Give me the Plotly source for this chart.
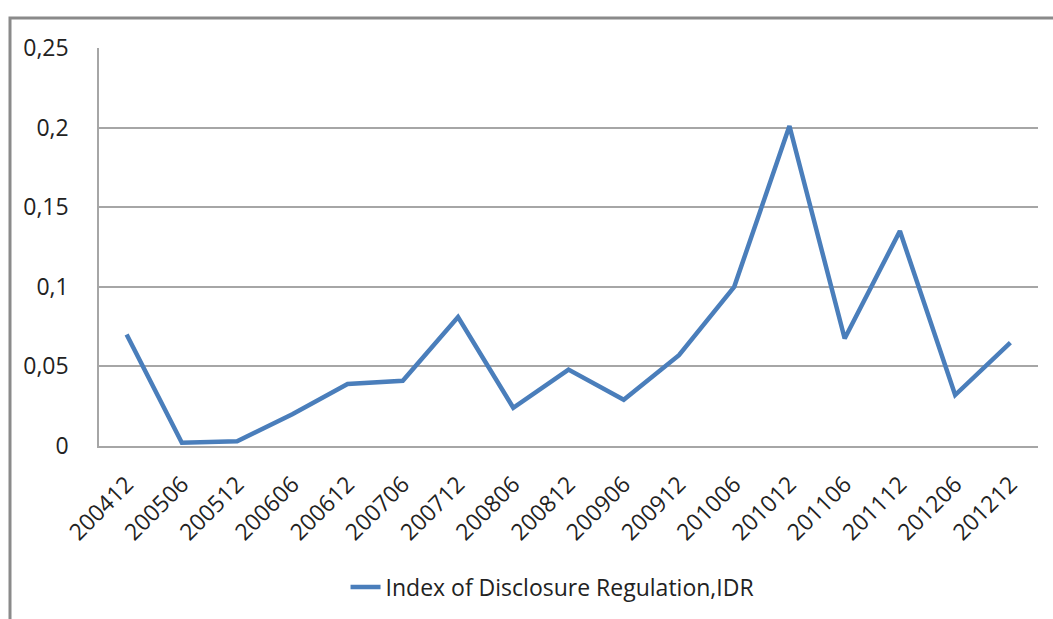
import plotly.graph_objects as go

# Half-yearly observation periods (YYYYMM)
periods = ["200412", "200506", "200512", "200606", "200612", "200706",
           "200712", "200806", "200812", "200906", "200912", "201006",
           "201012", "201106", "201112", "201206", "201212"]

# Index of Disclosure Regulation values
idr = [0.070, 0.002, 0.003, 0.020, 0.039, 0.041, 0.081, 0.024, 0.048,
       0.029, 0.057, 0.100, 0.201, 0.0675, 0.135, 0.032, 0.065]

y_ticks = [0, 0.05, 0.1, 0.15, 0.2, 0.25]

FONT = "Open Sans"
GRID = "#a6a6a6"
TEXT = "#222222"

fig = go.Figure()
fig.add_trace(go.Scatter(
    x=periods, y=idr, mode="lines",
    name="Index of Disclosure Regulation,IDR",
    line=dict(color="#4a7ebb", width=4.5),
))

fig.update_layout(
    width=1053, height=619,
    margin=dict(l=99, r=15, t=48, b=172),
    paper_bgcolor="white", plot_bgcolor="white",
    separators=", ",
    font=dict(family=FONT, size=20, color=TEXT),
    showlegend=True,
    legend=dict(orientation="h", x=0.483, xanchor="center",
                y=-0.351, yanchor="middle",
                font=dict(family=FONT, size=23, color=TEXT)),
    xaxis=dict(type="category", range=[-0.5, len(periods) - 0.5],
               tickangle=-45, showgrid=False,
               showline=True, linecolor=GRID, linewidth=1.5,
               ticks="", ticklabelstandoff=14,
               tickfont=dict(size=23)),
    yaxis=dict(range=[0, 0.25], tickvals=y_ticks,
               showgrid=True, gridcolor=GRID, gridwidth=1.5,
               showline=True, linecolor=GRID, linewidth=1.5,
               zeroline=False, ticks="", ticklabelstandoff=24,
               tickfont=dict(size=23)),
)

# Outer frame around the chart
fig.add_shape(type="rect", xref="paper", yref="paper",
              x0=(10 - 99) / 939, x1=1.2,
              y0=-0.6, y1=(447 - 18) / 399,
              line=dict(color="#8a8a8a", width=3), fillcolor="rgba(0,0,0,0)",
              layer="below")

fig.write_html("out.html")
